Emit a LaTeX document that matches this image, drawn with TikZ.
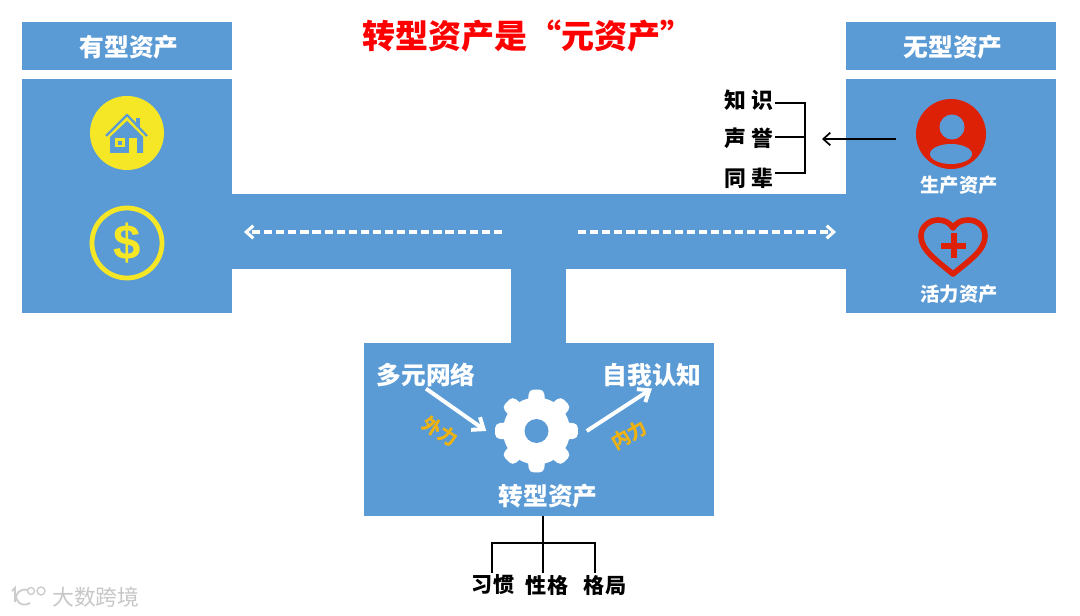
\documentclass[tikz,border=0pt]{standalone}
\usepackage{fontspec}
\setmainfont{Noto Sans CJK SC}
\newfontfamily\dollarfont{Liberation Sans}
\usetikzlibrary{arrows.meta,positioning}
\definecolor{assetblue}{RGB}{91,155,213}
\definecolor{iconyellow}{RGB}{245,231,37}
\definecolor{forcegold}{RGB}{238,178,17}
\definecolor{iconred}{RGB}{221,33,6}
\newcommand{\fs}[1]{\fontsize{#1}{#1}\selectfont\bfseries}
\tikzset{
  headbox/.style={fill=assetblue, text=white, minimum width=5.25cm, minimum height=1.2cm, inner sep=0pt, text height=15pt, text depth=0pt, font=\fs{17.6}},
  bodytxt/.style={text=white, inner sep=1pt, font=\fs{17.6}},
  smalltxt/.style={text=white, inner sep=1pt, font=\fs{13.7}},
  blacktxt/.style={text=black, inner sep=1pt, font=\fs{15.5}},
  forcetxt/.style={text=forcegold, inner sep=0pt, font=\fs{13.5}},
  bracket/.style={line width=1.1pt, black},
  whitearrow/.style={line width=2.8pt, white, -{Straight Barb[length=7pt,width=11pt,line width=2.8pt]}},
  dasharrow/.style={line width=2.2pt, white, dash pattern=on 5.8pt off 2.8pt, -{Straight Barb[length=5pt,width=9pt,line width=2.2pt]}}
}

\begin{document}
\begin{tikzpicture}[x=0.025cm, y=-0.025cm]
        \useasboundingbox (0,0) rectangle (1080,616);

        % Blue frame
        \fill[assetblue] (22,79) rectangle (232,313);
        \fill[assetblue] (846,79) rectangle (1056,313);
        \fill[assetblue] (232,194) rectangle (846,269);
        \fill[assetblue] (511,269) rectangle (566,343);
        \node[fill=assetblue, minimum width=8.75cm, minimum height=4.325cm, inner sep=0pt] (core) at (539,429.5) {};

        % Headers
        \node[font=\fs{23.5}, text=red, inner sep=0pt] (title) at (528,36) {转型资产是“元资产”};
        \node[headbox] (tangible) at (127,46) {\hspace*{3pt}有型资产};
        \node[headbox] (intangible) at (951,46) {\hspace*{3pt}无型资产};

        % House icon
        \node[circle, fill=iconyellow, minimum size=1.85cm, inner sep=0pt] (house) at (127,133) {};
        \fill[assetblue] (110,137) -- (127,121) -- (143,137) -- (143,153) -- (110,153) -- cycle;
        \fill[iconyellow] (115,138) rectangle (125,147);
        \fill[assetblue] (118,141) rectangle (122,145);
        \fill[iconyellow] (129,138) rectangle (137,153.5);
        \draw[assetblue, line width=1.6pt, line join=round] (106,136) -- (127,115) -- (147,136);
        \fill[assetblue] (136,118) rectangle (140,127);

        % Dollar icon
        \node[circle, draw=iconyellow, line width=3.4pt, minimum size=1.75cm, inner sep=0pt, text=iconyellow, font=\dollarfont\fontsize{35}{35}\selectfont\bfseries] (dollar) at (127,243) {\$};

        % Person icon
        \node[circle, fill=iconred, minimum size=1.75cm, inner sep=0pt] (person) at (951,134) {};
        \fill[assetblue] (952,127) circle (12.5);
        \fill[assetblue] (951,154) ellipse (21 and 10);
        \node[smalltxt] (prod) at (959,185) {生产资产};

        % Heart icon
        \coordinate (heart) at (953,246);
        \draw[iconred, line width=4pt, line join=round] (953,274) .. controls (936,260) and (921,250) .. (921,236) .. controls (921,226) and (930,220) .. (938,220) .. controls (945,220) and (950,223) .. (953,228) .. controls (956,223) and (961,220) .. (968,220) .. controls (977,220) and (985,226) .. (985,236) .. controls (985,250) and (970,260) .. (953,274) -- cycle;
        \fill[iconred] (941,243) rectangle (966,249.5);
        \fill[iconred] (950.5,233) rectangle (957,258);
        \node[smalltxt] (vital) at (959,294) {活力资产};

        % Bracket
        \node[blacktxt] (know) at (749,100) {知 识};
        \node[blacktxt] (fame) at (749,138) {声 誉};
        \node[blacktxt] (peer) at (749,178) {同 辈};
        \coordinate (knowend) at (805,103);
        \coordinate (fameend) at (805,137);
        \coordinate (peerend) at (805,173);
        \coordinate (src) at (896,139);
        \coordinate (dst) at (822,139);
        \draw[bracket] (know.east |- knowend) -- (knowend) -- (peerend) -- (peer.east |- peerend);
        \draw[bracket] (fame.east |- fameend) -- (fameend);
        \draw[line width=1.2pt, black, -{Straight Barb[length=5pt,width=9pt,line width=1.2pt]}] (src) -- (dst);

        % Dashed arrows
        \coordinate (leftfrom) at (502,232);
        \coordinate (leftto) at (244,232);
        \coordinate (rightfrom) at (578,232);
        \coordinate (rightto) at (836,232);
        \draw[dasharrow] (leftfrom) -- (leftto);
        \draw[dasharrow] (rightfrom) -- (rightto);

        % Gear
        \node[circle, minimum size=2.5cm, inner sep=0pt] (gear) at (536.5,431) {};
        \foreach \a in {0,45,...,315}
            \fill[white, rounded corners=3pt, shift={(gear.center)}] (\a-17:30) -- (\a-10:42) -- (\a+10:42) -- (\a+17:30) -- cycle;
        \fill[white] (gear.center) circle (33.5);
        \fill[assetblue] (gear.center) circle (12);

        % Core labels
        \node[bodytxt] (net) at (426,375) {多元网络};
        \node[bodytxt] (self) at (652,375) {自我认知};
        \node[bodytxt] (trans) at (548,496) {转型资产};
        \draw[whitearrow] (net.south) -- (gear.west);
        \draw[whitearrow] (gear.east) -- (self.south);
        \node[forcetxt, rotate=-32] (outer) at (440,431) {外力};
        \node[forcetxt, rotate=30] (inner) at (629,435) {内力};

        % Tree below
        \node[blacktxt, font=\fs{15}] (habit) at (493,585) {习惯};
        \node[blacktxt, font=\fs{15}] (nature) at (547,585) {性格};
        \node[blacktxt, font=\fs{15}] (layout) at (605,585) {格局};
        \coordinate (fork) at (543,543);
        \coordinate (forkl) at (492,543);
        \coordinate (forkr) at (595,543);
        \draw[bracket] (fork |- core.south) -- (fork |- habit.north);
        \draw[bracket] (forkl |- habit.north) -- (forkl) -- (forkr) -- (forkr |- layout.north);

        % Watermark
        \node[text=black!22, inner sep=0pt, font=\fontsize{15.5}{15.5}\selectfont] (mark) at (96,597) {大数跨境};
        \draw[black!20, line width=1.3pt] (12,591) -- (15,588) -- (15,602);
        \draw[black!20, line width=1.3pt] (28,590) .. controls (20,588) and (14,594) .. (17,600) .. controls (19,605) and (26,606) .. (30,603);
        \draw[black!20, line width=1pt] (31,591) circle (3.5);
        \draw[black!20, line width=1pt] (41,591) circle (4);
\end{tikzpicture}
\end{document}
